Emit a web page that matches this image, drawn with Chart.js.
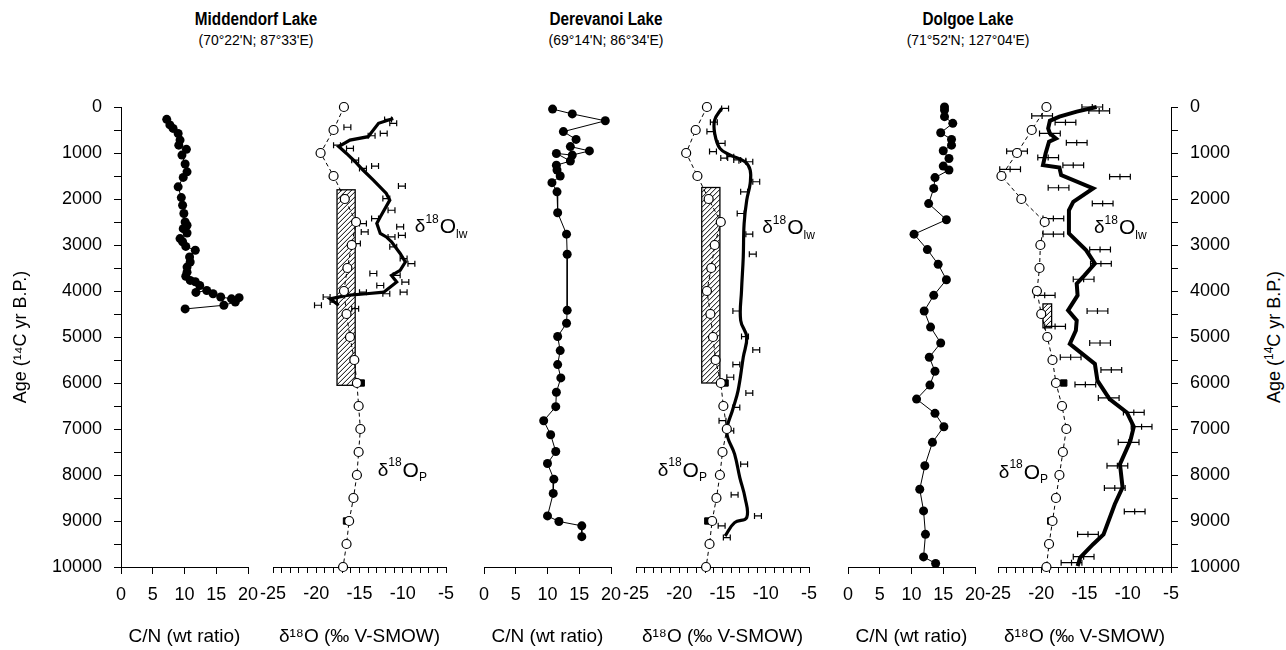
<!DOCTYPE html>
<html>
<head>
<meta charset="utf-8">
<script src="https://cdn.jsdelivr.net/npm/chart.js@4.4.0/dist/chart.umd.min.js"></script>
<style>
  body { margin: 0; background: #fff; width: 1286px; height: 650px; position: relative; overflow: hidden;
         font-family: "Liberation Sans", Arial, sans-serif; color: #000; }
  canvas { position: absolute; top: 0; }
  .lake { position: absolute; transform: translateX(-50%); text-align: center; white-space: nowrap; }
  .lake b { display: block; font-size: 18px; line-height: 22px; transform: scaleX(0.85); }
  .lake span { display: block; font-size: 15.5px; line-height: 20px; transform: scaleX(0.9); }
  #ageRight { position: absolute; left: 1273px; top: 337px; transform: translate(-50%, -50%) rotate(-90deg);
              white-space: nowrap; font-size: 18px; }
</style>
</head>
<body>
<div class="lake" style="left:256px; top:8px"><b>Middendorf Lake</b><span>(70°22'N; 87°33'E)</span></div>
<div class="lake" style="left:606px; top:8px"><b>Derevanoi Lake</b><span>(69°14'N; 86°34'E)</span></div>
<div class="lake" style="left:968px; top:8px"><b>Dolgoe Lake</b><span>(71°52'N; 127°04'E)</span></div>
<div id="ageRight">Age (<sup style="font-size:12px">14</sup>C yr B.P.)</div>

<canvas id="c1"></canvas>
<canvas id="c2"></canvas>
<canvas id="c3"></canvas>
<canvas id="c4"></canvas>
<canvas id="c5"></canvas>
<canvas id="c6"></canvas>

<script>
// ---- data ----
// δ18O of precipitation (open circles), every 500 yr
const pAge = [0, 500, 1000, 1500, 2000, 2500, 3000, 3500, 4000, 4500, 5000,
              5500, 6000, 6500, 7000, 7500, 8000, 8500, 9000, 9500, 10000];
const sqAge = [6000, 9000];

// Middendorf Lake
const midCnAge = [268, 390, 465, 575, 720, 830, 920, 1045, 1240, 1410, 1530, 1735, 1970, 2135, 2315, 2500, 2570, 2645, 2740, 2860,
                  2930, 3030, 3115, 3260, 3370, 3480, 3590, 3680, 3770, 3800, 3880, 4030, 3990, 4060, 4130, 4170, 4145, 4240, 4310, 4390];
const midCn = [7.2, 7.7, 8.2, 9.0, 9.3, 9.1, 10.3, 9.6, 10.1, 10.4, 9.8, 9.0, 9.5, 9.7, 9.9, 10.1, 10.4, 9.8, 10.4, 9.3,
               9.7, 10.2, 11.7, 10.8, 10.9, 10.4, 10.4, 10.2, 10.9, 11.7, 12.4, 11.8, 13.5, 14.5, 15.7, 17.4, 18.6, 18.0, 16.2, 10.1];
const midP = [-16.8, -18.0, -19.5, -18.0, -16.7, -15.4, -15.9, -16.4, -16.8, -16.5, -16.1,
              -15.6, -15.3, -15.1, -14.9, -15.1, -15.3, -15.7, -16.2, -16.5, -16.9];
const midSq = [-14.8, -16.5];
const midLwAge = [250, 355, 645, 720, 860, 1010, 1190, 1370, 1590, 1880, 2025, 2390, 2530, 2750, 2825, 2930, 3185, 3370, 3550, 3660,
                  3805, 4025, 4060, 4095, 4170, 4310];
const midLw = [-11.1, -12.8, -14.0, -16.1, -17.4, -16.5, -15.5, -14.6, -13.4, -11.9, -11.5, -12.6, -13.0, -12.6, -11.9, -11.3, -10.3, -9.7, -10.3, -11.3,
               -10.7, -12.2, -14.2, -16.5, -18.4, -17.4];
const midErrAge = [270, 355, 440, 625, 575, 830, 900, 1155, 1285, 1335, 1720, 1990, 2245, 2425, 2535, 2715, 2605, 2790, 2825, 3040,
                   3295, 3405, 3620, 3660, 3805, 4025, 3880, 4060, 4025, 4130, 4310, 4240, 4385, 2970];
const midErr = [-11.7, -11.1, -16.4, -13.6, -12.2, -17.6, -16.1, -15.5, -13.2, -14.6, -10.1, -11.9, -11.3, -13.2, -14.6, -14.4, -10.3, -10.1, -11.3, -11.1,
                -9.9, -9.0, -13.4, -10.7, -9.7, -9.9, -12.6, -11.9, -14.6, -18.8, -19.8, -18.0, -15.5, -15.3];

// Derevanoi Lake
const derCnAge = [45, 150, 300, 535, 705, 860, 955, 1045, 1010, 1175, 1265, 1370, 1500, 1645, 1845, 2300, 2765, 3200, 4420, 4700,
                  4990, 5295, 5600, 5890, 6200, 6515, 6820, 7125, 7490, 7750, 8090, 8400, 8890, 9010, 9105, 9340];
const derCn = [10.8, 13.9, 19.1, 12.5, 14.5, 13.6, 16.6, 13.9, 11.4, 13.6, 11.4, 11.5, 12.0, 10.7, 11.5, 11.6, 13.0, 13.1, 13.1, 13.0,
               11.6, 12.0, 11.6, 12.1, 11.4, 11.3, 9.4, 10.5, 11.3, 10.0, 11.0, 10.9, 10.0, 11.8, 15.4, 15.4];
const derP = [-16.8, -18.1, -19.2, -17.9, -16.6, -15.2, -15.9, -16.3, -16.8, -16.4, -16.1,
              -15.8, -15.2, -14.9, -14.5, -15.0, -15.3, -15.7, -16.2, -16.5, -16.9];
const derSq = [-14.7, -16.7];
const derLwAge = [30, 280, 575, 900, 1045, 1190, 1370, 1660, 2025, 2535, 3260, 3990, 4640, 5000, 5440, 6165, 6565, 7070, 7545, 8055,
                  8490, 8925, 9035, 9325];
const derLw = [-15.1, -15.9, -15.9, -15.3, -14.1, -12.4, -11.8, -11.8, -12.2, -12.5, -12.6, -12.8, -12.9, -12.2, -12.6, -13.2, -13.8, -14.5, -13.6, -13.0,
               -12.4, -12.2, -13.6, -14.7];
const derErrAge = [30, 535, 790, 970, 1080, 1190, 1625, 1845, 2315, 2765, 3200, 4435, 4990, 5280, 5600, 5875, 6220, 6530, 6820, 7040,
                   7765, 8430, 8890, 9105, 9360, 1110, 1150, 1170, 330];
const derErr = [-14.7, -16.4, -15.1, -16.1, -14.1, -11.9, -11.1, -12.5, -12.9, -11.9, -11.5, -13.4, -12.4, -11.1, -13.4, -14.1, -11.9, -13.4, -15.0, -14.1,
                -12.5, -13.6, -10.9, -15.1, -14.5, -14.8, -13.3, -12.7, -16.0];

// Dolgoe Lake
const dolCnAge = [0, 65, 210, 355, 560, 705, 830, 950, 1120, 1285, 1370, 1535, 1770, 2100, 2450, 2765, 3100, 3420, 3755, 4095,
                  4435, 4785, 5130, 5440, 5745, 6045, 6350, 6660, 6950, 7290, 7800, 8310, 8780, 9290, 9780, 9925];
const dolCn = [15.2, 15.2, 15.2, 16.5, 14.6, 16.3, 16.3, 15.0, 15.9, 15.0, 15.9, 13.7, 13.5, 12.7, 15.5, 10.4, 12.5, 14.2, 15.5, 13.5,
               12.0, 13.0, 14.6, 12.8, 13.7, 12.9, 10.8, 13.7, 15.1, 13.3, 12.1, 11.3, 11.9, 12.2, 11.9, 13.8];
const dolP = [-19.4, -21.1, -22.8, -24.6, -22.3, -19.6, -20.1, -20.2, -20.5, -20.0, -19.3,
              -18.7, -18.3, -17.6, -17.1, -17.5, -17.9, -18.3, -18.7, -19.1, -19.4];
const dolSq = [-17.4, -18.9];
const dolLwAge = [0, 100, 210, 300, 465, 575, 685, 755, 1010, 1265, 1315, 1480, 1770, 2060, 2245, 2750, 3115, 3405, 3660, 3840,
                  4095, 4420, 4640, 4860, 5150, 5585, 5950, 6350, 6640, 6950, 7255, 7765, 8270, 8635, 9290, 9505, 9795, 9980];
const dolLw = [-13.6, -15.9, -17.9, -19.0, -19.2, -19.0, -18.3, -19.1, -19.5, -19.8, -17.9, -17.7, -14.0, -16.3, -16.8, -16.8, -14.8, -13.8, -15.0, -15.9,
               -15.8, -16.9, -15.9, -16.0, -16.7, -13.8, -13.5, -12.1, -10.1, -9.3, -9.7, -10.9, -10.6, -11.5, -12.8, -14.0, -15.5, -15.8];
const dolErrAge = [0, 85, 195, 335, 575, 775, 960, 1100, 1265, 1355, 1515, 1755, 2100, 2425, 2765, 3100, 3405, 3745, 4095, 4435,
                   4770, 5130, 5440, 5715, 6035, 6325, 6640, 6950, 7290, 7800, 8285, 8795, 9290, 9775, 9905];
const dolErr = [-14.1, -13.3, -19.9, -17.2, -19.0, -15.9, -22.8, -19.2, -16.3, -23.6, -10.9, -18.0, -12.9, -18.6, -18.6, -13.2, -13.1, -15.1, -19.6, -13.5,
                -18.4, -13.2, -16.6, -11.9, -14.9, -12.2, -9.3, -8.4, -9.9, -11.2, -11.5, -9.2, -14.6, -15.1, -16.5];

// hatched boxes: [lo, hi, topAge, bottomAge]
const midBox = [-17.6, -15.5, 1800, 6050];
const derBox = [-17.4, -15.3, 1750, 6000];
const dolBox = [-19.8, -18.8, 4280, 4800];

// ---- helpers ----
Chart.defaults.font.family = "'Liberation Sans', Arial, sans-serif";
Chart.defaults.font.size = 18;
Chart.defaults.color = '#000';

function pts(xs, ys) { return xs.map((v, i) => ({ x: v, y: ys[i] })); }

function hatch(box) {
  return {
    id: 'hatch',
    beforeDatasetsDraw(chart) {
      const { ctx, scales: { x, y } } = chart;
      const l = x.getPixelForValue(box[0]), r = x.getPixelForValue(box[1]);
      const t = y.getPixelForValue(box[2]), b = y.getPixelForValue(box[3]);
      const w = r - l;
      ctx.save();
      ctx.beginPath(); ctx.rect(l, t, w, b - t); ctx.clip();
      ctx.strokeStyle = '#000'; ctx.lineWidth = 1;
      for (let k = t - w; k < b + w; k += 5) {
        ctx.beginPath(); ctx.moveTo(l, k + w); ctx.lineTo(r, k); ctx.stroke();
      }
      ctx.restore();
      ctx.save(); ctx.strokeStyle = '#000'; ctx.lineWidth = 1.3;
      ctx.strokeRect(l, t, w, b - t);
      ctx.restore();
    }
  };
}

function errbars(vals, ages, half, cap, mid) {
  return {
    id: 'errbars',
    beforeDatasetsDraw(chart) {
      const { ctx, scales: { x, y } } = chart;
      ctx.save(); ctx.strokeStyle = '#000'; ctx.lineWidth = 1.2;
      vals.forEach((v, i) => {
        const py = y.getPixelForValue(ages[i]);
        const l = x.getPixelForValue(v - half), r = x.getPixelForValue(v + half), c = x.getPixelForValue(v);
        ctx.beginPath();
        ctx.moveTo(l, py); ctx.lineTo(r, py);
        ctx.moveTo(l, py - cap); ctx.lineTo(l, py + cap);
        ctx.moveTo(r, py - cap); ctx.lineTo(r, py + cap);
        if (mid) { ctx.moveTo(c, py - cap); ctx.lineTo(c, py + cap); }
        ctx.stroke();
      });
      ctx.restore();
    }
  };
}

// δ18O labels with super/subscripts, anchored at data coordinates
function labels(items) {
  return {
    id: 'labels',
    afterDatasetsDraw(chart) {
      const { ctx, scales: { x, y } } = chart;
      ctx.save(); ctx.fillStyle = '#000'; ctx.textAlign = 'left'; ctx.textBaseline = 'middle';
      items.forEach(it => {
        let px = x.getPixelForValue(it.x);
        const py = y.getPixelForValue(it.y);
        it.parts.forEach(([t, kind]) => {
          const size = kind ? 12 : (t === 'O' ? 21 : 19);
          const dy = kind === 'sup' ? -8 : kind === 'sub' ? 7 : 0;
          ctx.font = size + "px 'Liberation Sans', Arial, sans-serif";
          ctx.fillText(t, px, py + dy);
          px += ctx.measureText(t).width + (kind === 'sup' ? 1 : 0);
        });
      });
      ctx.restore();
    }
  };
}
const lwParts = [['δ', ''], ['18', 'sup'], ['O', ''], ['lw', 'sub']];
const pParts = [['δ', ''], ['18', 'sup'], ['O', ''], ['P', 'sub']];

function cnAxis() {
  return {
    type: 'linear', min: 0, max: 20,
    ticks: { stepSize: 5, padding: 10, maxRotation: 0, autoSkip: false },
    grid: { drawOnChartArea: false, tickLength: 7, color: '#000' },
    border: { color: '#000', width: 1 },
    title: { display: true, text: 'C/N (wt ratio)', font: { size: 19 }, padding: { top: 0, bottom: 2 } },
    afterFit: s => { s.height = 83; s.paddingLeft = 0; s.paddingRight = 0; }
  };
}
function isoAxis() {
  return {
    type: 'linear', min: -25, max: -5,
    ticks: { stepSize: 1, padding: 10, maxRotation: 0, autoSkip: false,
             callback: v => (v % 5 === 0 ? String(v) : '') },
    grid: { drawOnChartArea: false, tickLength: 6, color: '#000' },
    border: { color: '#000', width: 1 },
    title: { display: true, text: 'δ¹⁸O (‰ V-SMOW)', font: { size: 19 }, padding: { top: 0, bottom: 2 } },
    afterFit: s => { s.height = 83; s.paddingLeft = 0; s.paddingRight = 0; }
  };
}
function ageAxis(position, width) {
  const ax = {
    type: 'linear', reverse: true, min: 0, max: 10000, display: !!position,
    position: position || 'left'
  };
  if (!position) return ax;
  Object.assign(ax, {
    ticks: { stepSize: 500, autoSkip: false, padding: 12, callback: v => (v % 1000 === 0 ? String(v) : '') },
    grid: { drawOnChartArea: false, tickLength: 7, color: '#000' },
    border: { color: '#000', width: 1 },
    title: { display: position === 'left', text: 'Age (¹⁴C yr B.P.)', font: { size: 18 }, padding: { top: 10, bottom: 0 } },
    afterFit: s => { s.width = width; }
  });
  return ax;
}

function cnSet(xs, ys) {
  return { data: pts(xs, ys), showLine: true, borderColor: '#000', borderWidth: 1,
           pointRadius: 4.5, pointBackgroundColor: '#000', pointBorderColor: '#000', pointBorderWidth: 0, clip: false };
}
function isoSets(p, sq, lw, lwAge, tension, lwWidth) {
  return [
    { data: pts(p, pAge), showLine: true, borderColor: '#000', borderWidth: 1, borderDash: [4, 3],
      pointRadius: 4.5, pointBackgroundColor: '#fff', pointBorderColor: '#000', pointBorderWidth: 1.2, order: 1, clip: false },
    { data: pts(sq, sqAge), showLine: false, pointStyle: 'rect', pointRadius: 4.5,
      pointBackgroundColor: '#000', pointBorderColor: '#000', order: 2, clip: false },
    { data: pts(lw, lwAge), showLine: true, borderColor: '#000', borderWidth: lwWidth, tension: tension,
      pointRadius: 0, order: 3, clip: false }
  ];
}

function panel(id, left, width, padL, padR, xAxis, yAxis, datasets, extra) {
  const cv = document.getElementById(id);
  cv.width = width; cv.height = 650;
  cv.style.left = left + 'px';
  new Chart(cv, {
    type: 'scatter',
    data: { datasets: datasets },
    options: {
      responsive: false, animation: false, devicePixelRatio: 1,
      layout: { padding: { top: 107, bottom: 0, left: padL, right: padR } },
      plugins: { legend: { display: false }, tooltip: { enabled: false } },
      scales: { x: xAxis, y: yAxis }
    },
    plugins: extra || []
  });
}

// Middendorf: C/N 121-248, δ18O 273-446
panel('c1', 0, 272, 0, 24, cnAxis(), ageAxis('left', 121), [cnSet(midCn, midCnAge)]);
panel('c2', 249, 221, 24, 24, isoAxis(), ageAxis(null), isoSets(midP, midSq, midLw, midLwAge, 0, 3.2),
  [hatch(midBox), errbars(midErr, midErrAge, 0.4, 3, false),
   labels([{ x: -8.6, y: 2614, parts: lwParts }, { x: -12.9, y: 7908, parts: pParts }])]);
// Derevanoi: C/N 484-611, δ18O 636-809
panel('c3', 460, 175, 24, 24, cnAxis(), ageAxis(null), [cnSet(derCn, derCnAge)]);
panel('c4', 612, 221, 24, 24, isoAxis(), ageAxis(null), isoSets(derP, derSq, derLw, derLwAge, 0.4, 3.2),
  [hatch(derBox), errbars(derErr, derErrAge, 0.4, 3, false),
   labels([{ x: -10.4, y: 2636, parts: lwParts }, { x: -22.5, y: 7908, parts: pParts }])]);
// Dolgoe: C/N 848-975, δ18O 998-1171 with right axis
panel('c5', 824, 175, 24, 24, cnAxis(), ageAxis(null), [cnSet(dolCn, dolCnAge)]);
panel('c6', 974, 312, 24, 0, isoAxis(), ageAxis('right', 115), isoSets(dolP, dolSq, dolLw, dolLwAge, 0, 4),
  [hatch(dolBox), errbars(dolErr, dolErrAge, 1.2, 3, true),
   labels([{ x: -13.9, y: 2636, parts: lwParts }, { x: -24.9, y: 7952, parts: pParts }])]);
</script>
</body>
</html>
